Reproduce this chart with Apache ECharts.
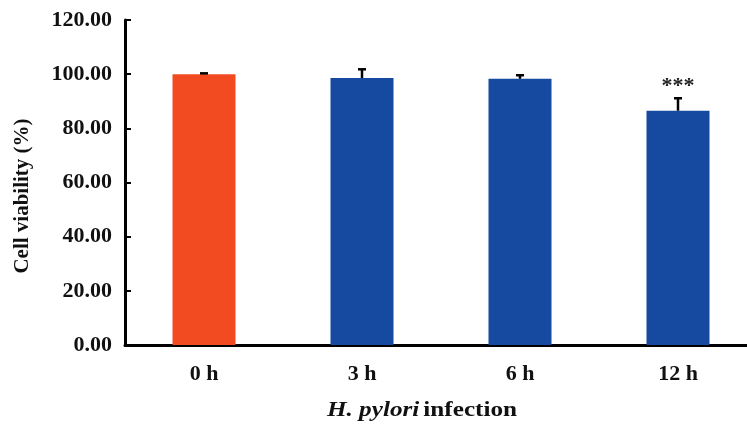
<!DOCTYPE html>
<html><head><meta charset="utf-8">
<script src="https://cdn.jsdelivr.net/npm/echarts@6/dist/echarts.min.js"></script>
<style>html,body{margin:0;padding:0;background:#fff}#c{width:747px;height:427px}</style>
</head><body><div id="c"></div>
<script>
const categories = ['0 h', '3 h', '6 h', '12 h'];
const viability = [100.0, 98.6, 98.3, 86.5];
const errors = [0.3, 3.2, 1.3, 4.6];
const significance = ['', '', '', '***'];
const yTicks = [0, 20, 40, 60, 80, 100, 120];

const FONT = '"Liberation Serif", "Times New Roman", serif';
const chart = echarts.init(document.getElementById('c'));
chart.setOption({
  animation: false,
  grid: {left: 125, top: 20, width: 632, height: 325, outerBoundsMode: 'none', containLabel: false},
  xAxis: {
    type: 'category', data: categories,
    axisLine: {lineStyle: {color: '#000', width: 3}},
    axisTick: {show: false},
    axisLabel: {color: '#111', fontFamily: FONT, fontWeight: 'bold', fontSize: 22, margin: 18}
  },
  yAxis: {
    type: 'value', min: yTicks[0], max: yTicks[yTicks.length - 1], interval: 20,
    splitLine: {show: false},
    axisLine: {show: true, lineStyle: {color: '#000', width: 3}},
    axisTick: {show: true, inside: true, length: 6, lineStyle: {color: '#000', width: 2}},
    axisLabel: {color: '#111', fontFamily: FONT, fontWeight: 'bold', fontSize: 22, margin: 13,
      formatter: v => v.toFixed(2)}
  },
  graphic: [
    {type: 'text', x: 23, y: 196, rotation: Math.PI / 2,
      style: {text: 'Cell viability (%)', fill: '#111', font: 'bold 21px ' + FONT,
        align: 'center', verticalAlign: 'middle'}},
    {type: 'text', x: 422, y: 411, scaleX: 1.2,
      style: {text: '{i|H. pylori} {b|infection}', align: 'center', verticalAlign: 'middle',
        rich: {
          i: {fontFamily: FONT, fontWeight: 'bold', fontStyle: 'italic', fontSize: 21, fill: '#111'},
          b: {fontFamily: FONT, fontWeight: 'bold', fontSize: 21, fill: '#111'}
        }}}
  ],
  series: [
    {
      type: 'bar', barWidth: 63,
      data: viability.map((v, i) => ({value: v, itemStyle: {color: i === 0 ? '#F24B22' : '#154AA0'}})),
      z: 2
    },
    {
      type: 'custom', z: 3,
      data: viability.map((v, i) => [i, v, errors[i]]),
      renderItem: (params, api) => {
        const x = api.value(0), v = api.value(1), e = api.value(2);
        const base = api.coord([x, v]);
        const top = api.coord([x, v + e]);
        const cap = 4;
        const children = [
          {type: 'line', shape: {x1: base[0], y1: base[1], x2: top[0], y2: top[1]}, style: {stroke: '#000', lineWidth: 2.5}},
          {type: 'line', shape: {x1: top[0] - cap, y1: top[1], x2: top[0] + cap, y2: top[1]}, style: {stroke: '#000', lineWidth: 2.5}}
        ];
        const s = significance[params.dataIndex];
        if (s) {
          children.push({type: 'text', x: top[0], y: top[1] - 1,
            style: {text: s, font: 'bold 22px ' + FONT, fill: '#222', align: 'center', verticalAlign: 'bottom'}});
        }
        return {type: 'group', children};
      }
    }
  ]
});
</script></body></html>
